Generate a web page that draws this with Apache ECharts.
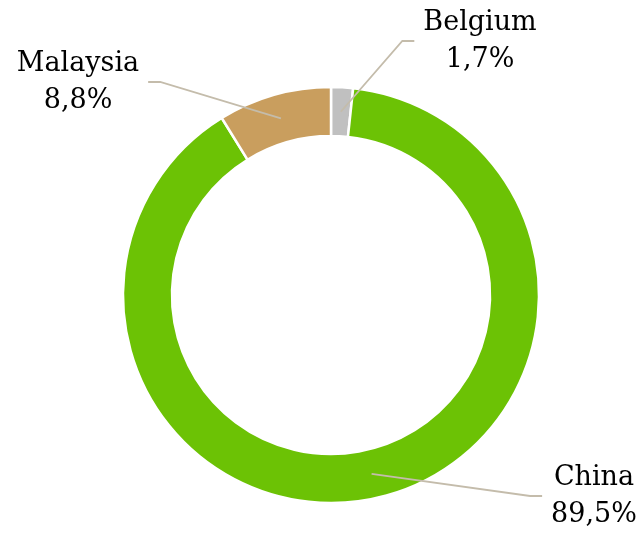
<!DOCTYPE html>
<html>
<head>
<meta charset="utf-8">
<script src="https://cdn.jsdelivr.net/npm/echarts@6/dist/echarts.min.js"></script>
<style>
  html, body { margin: 0; padding: 0; background: #fff; }
  #box { width: 641px; height: 534px; }
</style>
</head>
<body>
<div id="box"></div>
<script>
// data (share of total, %)
var countries = ['Belgium', 'China', 'Malaysia'];
var shares = [1.7, 89.5, 8.8];
var colors = ['#c0c0c0', '#6cc205', '#c99e5e'];

var center = [331, 295];
var outerR = 208, innerR = 159;
var midR = (outerR + innerR) / 2; // leader lines start in the middle of the ring

// where each label block sits (center), by data index
var labelPos = [[480, 41], [594, 496], [78, 82]];

// anchor of each leader line: middle of the slice, middle of the ring
var total = shares.reduce(function (a, b) { return a + b; }, 0);
var anchors = [];
var acc = 0;
shares.forEach(function (v) {
  var mid = (acc + v / 2) / total * Math.PI * 2; // clockwise from 12 o'clock
  anchors.push([center[0] + midR * Math.sin(mid), center[1] - midR * Math.cos(mid)]);
  acc += v;
});

var myChart = echarts.init(document.getElementById('box'));

var option = {
  animation: false,
  series: [
    {
      // the ring itself
      type: 'pie',
      z: 2,
      center: center,
      radius: [innerR, outerR],
      startAngle: 90,
      silent: true,
      itemStyle: { borderColor: '#fff', borderWidth: 2.5 },
      label: { show: false },
      labelLine: { show: false },
      data: countries.map(function (name, i) {
        return { name: name, value: shares[i], itemStyle: { color: colors[i] } };
      })
    },
    {
      // transparent copy drawn on top, only carries labels + leader lines
      type: 'pie',
      z: 5,
      center: center,
      radius: [innerR, outerR],
      startAngle: 90,
      silent: true,
      avoidLabelOverlap: false,
      itemStyle: { color: 'rgba(0,0,0,0)' },
      emphasis: { disabled: true },
      label: {
        show: true,
        position: 'outside',
        fontFamily: 'DejaVu Serif',
        fontSize: 27,
        lineHeight: 37,
        color: '#000',
        align: 'center',
        formatter: function (p) {
          return p.name + '\n' + p.value.toFixed(1).replace('.', ',') + '%';
        }
      },
      labelLine: {
        show: true,
        showAbove: true,
        length: 10,
        length2: 10,
        lineStyle: { color: '#c4bcab', width: 1.8 }
      },
      labelLayout: function (p) {
        var i = p.dataIndex;
        var pos = labelPos[i];
        var w = p.labelRect.width;
        var start = anchors[i];
        var side = pos[0] > start[0] ? 1 : -1;
        var endX = pos[0] - side * (w / 2 + 9);
        return {
          x: pos[0],
          y: pos[1],
          align: 'center',
          verticalAlign: 'middle',
          labelLinePoints: [start, [endX - side * 12, pos[1]], [endX, pos[1]]]
        };
      },
      data: countries.map(function (name, i) {
        return { name: name, value: shares[i] };
      })
    }
  ]
};

myChart.setOption(option);
</script>
</body>
</html>
